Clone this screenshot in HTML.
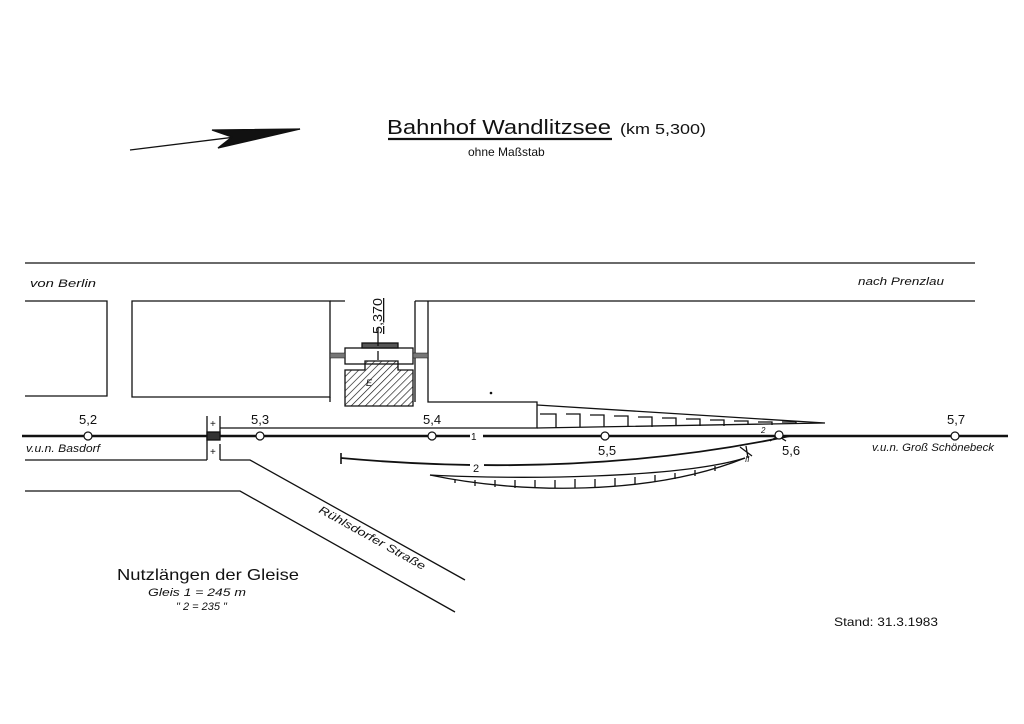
<!DOCTYPE html>
<html><head><meta charset="utf-8"><style>
html,body{margin:0;padding:0;background:#fff;}
svg{display:block;}
text{font-family:"Liberation Sans",sans-serif;fill:#111;}
</style></head><body>
<svg width="1024" height="724" viewBox="0 0 1024 724" xmlns="http://www.w3.org/2000/svg">
<defs>
<pattern id="h" width="5" height="5" patternUnits="userSpaceOnUse" patternTransform="rotate(45)">
<line x1="0" y1="0" x2="0" y2="5" stroke="#111" stroke-width="1.3"/>
</pattern>
</defs>
<g stroke="#111" fill="none" stroke-width="1.3">
<line x1="130" y1="150" x2="300" y2="129"/>
<path d="M212 130 L300 129 L218 148 L232 137 Z" fill="#111"/>
<line x1="388" y1="139" x2="612" y2="139" stroke-width="2.2"/>
<line x1="25" y1="263" x2="975" y2="263"/>
<path d="M25 301 H107 V396 H25"/>
<path d="M132 301 H330 V397 H132 Z"/>
<path d="M330 301 H345 M415 301 H975"/>
<path d="M415 301 V402 M428 301 V402 H537 V428 H220"/>
<path d="M330 397 V402"/>
<rect x="345" y="348" width="68" height="16" fill="#fff"/>
<rect x="362" y="343" width="36" height="5" fill="#555"/>
<path d="M345 406 V370 H365 V361 H398 V370 H413 V406 Z" fill="url(#h)"/>
<rect x="330" y="353" width="15" height="5" fill="#777" stroke-width="0.5"/>
<rect x="413" y="353" width="15" height="5" fill="#777" stroke-width="0.5"/>
<line x1="378" y1="328" x2="378" y2="346"/>
<line x1="378" y1="351" x2="378" y2="360"/>
<path d="M537 405 L825 423 L537 428"/>
<path d="M540 414 H556 V428 M566 414 H580 V427 M590 415 H604 V427 M614 416 H628 V427 M638 417 H652 V427 M662 418 H676 V426 M686 419 H700 V426 M710 420 H724 V426 M734 421 H748 V425 M758 422 H772 V425 M782 422 H796 V424"/>
<line x1="22" y1="436" x2="470" y2="436" stroke-width="2.6"/>
<line x1="483" y1="436" x2="1008" y2="436" stroke-width="2.6"/>
<line x1="220" y1="428" x2="220" y2="436"/>
<path d="M207 416 V460 M220 416 V428 M220 444 V460"/>
<rect x="207" y="432" width="13" height="8" fill="#333"/>
<path d="M341 458 C430 466 600 476 790 436" stroke-width="1.8"/>
<line x1="341" y1="453" x2="341" y2="464" stroke-width="1.6"/>
<path d="M430 475 C520 480 680 478 745 458"/>
<path d="M430 475 C520 494 650 496 745 458"/>
<path d="M455 479 V483 M475 480 V486 M495 480 V487 M515 480 V488 M535 480 V488 M555 480 V488 M575 479 V488 M595 479 V487 M615 478 V486 M635 477 V484 M655 475 V482 M675 473 V479 M695 470 V476 M715 466 V471"/>
<path d="M740 447 L752 456 M746 446 L748 458"/>
<path d="M770 441 L778 436 L786 441"/>
<path d="M25 460 H207 M220 460 H250 L465 580"/>
<path d="M25 491 H240 L455 612"/>
</g>
<g fill="#fff" stroke="#111" stroke-width="1.2">
<circle cx="88" cy="436" r="4"/><circle cx="260" cy="436" r="4"/>
<circle cx="432" cy="436" r="4"/><circle cx="605" cy="436" r="4"/>
<circle cx="779" cy="435" r="4"/><circle cx="955" cy="436" r="4"/>
</g>
<g font-size="13">
<text x="79" y="424">5,2</text><text x="251" y="424">5,3</text>
<text x="423" y="424">5,4</text><text x="598" y="455">5,5</text>
<text x="782" y="455">5,6</text><text x="947" y="424">5,7</text>
</g>
<text x="210" y="427" font-size="10">+</text>
<text x="210" y="455" font-size="10">+</text>
<text x="471" y="440" font-size="10">1</text>
<rect x="470" y="462" width="14" height="10" fill="#fff"/>
<text x="473" y="472" font-size="11">2</text>
<text x="761" y="433" font-size="8" font-style="italic">2</text>
<text x="745" y="462" font-size="8" font-style="italic">II</text>
<text x="366" y="386" font-size="9" font-style="italic">E</text>
<text transform="translate(382,334) rotate(-90)" font-size="13" text-decoration="underline" textLength="36" lengthAdjust="spacingAndGlyphs">5,370</text>
<text x="387" y="134" font-size="20" textLength="224" lengthAdjust="spacingAndGlyphs">Bahnhof Wandlitzsee</text>
<text x="620" y="134" font-size="15" textLength="86" lengthAdjust="spacingAndGlyphs">(km 5,300)</text>
<text x="468" y="156" font-size="12">ohne Maßstab</text>
<g font-style="italic" font-size="11">
<text x="30" y="287" textLength="66" lengthAdjust="spacingAndGlyphs">von Berlin</text>
<text x="858" y="285" textLength="86" lengthAdjust="spacingAndGlyphs">nach Prenzlau</text>
<text x="26" y="452" textLength="74" lengthAdjust="spacingAndGlyphs">v.u.n. Basdorf</text>
<text x="872" y="451" textLength="122" lengthAdjust="spacingAndGlyphs">v.u.n. Groß Schönebeck</text>
<text transform="translate(318,512) rotate(29)" textLength="120" lengthAdjust="spacingAndGlyphs">Rühlsdorfer Straße</text>
<text x="148" y="596" textLength="98" lengthAdjust="spacingAndGlyphs">Gleis 1 = 245 m</text>
<text x="176" y="610">"   2 = 235 "</text>
</g>
<text x="117" y="580" font-size="16" textLength="182" lengthAdjust="spacingAndGlyphs">Nutzlängen der Gleise</text>
<text x="834" y="626" font-size="12" textLength="104" lengthAdjust="spacingAndGlyphs">Stand:  31.3.1983</text>
<circle cx="491" cy="393" r="1.3" fill="#111"/>
</svg>
</body></html>
